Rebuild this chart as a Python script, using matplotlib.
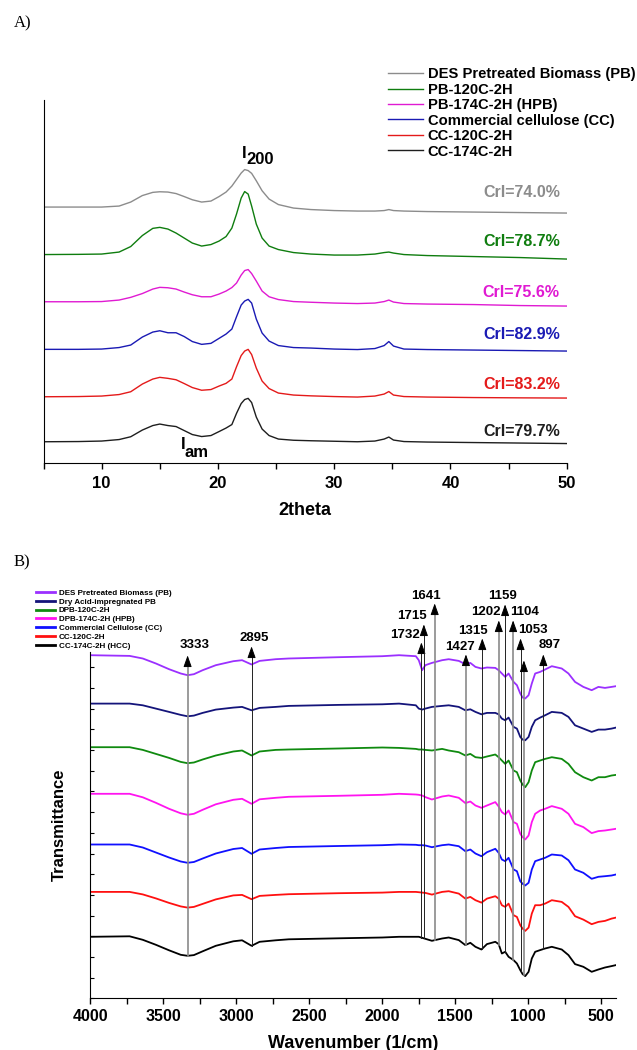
import matplotlib.pyplot as plt
import numpy as np
from matplotlib.ticker import MultipleLocator

plt.rcParams['font.family'] = 'Liberation Sans'
plt.rcParams['font.weight'] = 'bold'
plt.rcParams['axes.labelweight'] = 'bold'

# ---------------- XRD data (panel A), stacked, arbitrary units ----------------
two_theta = [5, 8, 10, 11.5, 12.5, 13.5, 14.4, 15.0, 15.7, 16.4, 17.1, 17.8, 18.6, 19.4,
             20.1, 20.7, 21.2, 21.6, 22.0, 22.3, 22.6, 22.9, 23.3, 23.8, 24.4, 25.2, 26.5,
             28, 30, 32, 33.5, 34.3, 34.7, 35.1, 36, 38, 42, 46, 50]
xrd_pb = [256, 256, 256, 257, 261, 267.5, 270.7, 271.3, 271, 269.5, 266.5, 263.3, 261, 262,
          266.5, 271, 277, 283.5, 290, 293.5, 292.5, 289.7, 282.3, 272.3, 264, 258.5, 255,
          253.5, 252.5, 252, 252, 252.5, 253.5, 252.5, 252, 251.5, 251, 250.5, 250]
xrd_pb120 = [208.5, 208.7, 209, 211, 216.5, 227.5, 234.7, 235.7, 234, 230, 225, 220, 217, 218.5,
             222, 226.5, 235, 249, 265, 271.5, 269, 257, 239, 225, 217, 213.5, 210.5,
             209, 208, 208, 209, 210.5, 211, 210, 208.5, 207.5, 206.5, 205.5, 204]
xrd_pb174 = [161.3, 161.3, 161.5, 163, 165.7, 169.5, 174, 175.7, 175.3, 174, 171, 168.3, 166.3,
             166.3, 169, 172, 175.5, 180, 188, 192.5, 193.5, 189.5, 182, 172, 166.3, 163.5,
             161.5, 160.8, 160, 159.5, 160, 161.5, 163, 161, 159.5, 159, 158.5, 157.5, 157]
xrd_cc = [113.7, 113.7, 114, 115.5, 118, 126, 131, 132.3, 130.3, 130.3, 126.5, 121.5, 118.7,
          119.7, 124.7, 129, 134, 146.3, 158, 162, 163.7, 160, 144, 130, 122, 117.5, 115.5,
          115, 114, 113.5, 114.5, 117.5, 121.5, 117, 114, 113.5, 113, 112.5, 112]
xrd_cc120 = [66.3, 66.5, 67, 68.5, 71.3, 79, 84, 85.7, 84.7, 83.3, 79.5, 75.5, 72.8, 73.5,
             77, 79.7, 84, 96.3, 107.5, 112, 113.7, 108.5, 95, 82, 74.5, 70, 68,
             67.2, 66.5, 66, 67, 69, 71.5, 68, 66.5, 66, 65.5, 65.2, 65]
xrd_cc174 = [21.3, 21.5, 22, 23.5, 26.3, 33, 37.5, 39, 37.5, 36.5, 32.5, 28.5, 26.5, 27.5,
             31.5, 35, 38.5, 49.7, 59.5, 63.5, 64.7, 60.5, 46, 34, 27.5, 24, 22.8,
             22.3, 21.8, 21.3, 22, 24, 26, 23, 21.5, 21, 20.5, 20, 19.5]

xrd_names = ['DES Pretreated Biomass (PB)', 'PB-120C-2H', 'PB-174C-2H (HPB)',
             'Commercial cellulose (CC)', 'CC-120C-2H', 'CC-174C-2H']
cri_labels = ['CrI=74.0%', 'CrI=78.7%', 'CrI=75.6%', 'CrI=82.9%', 'CrI=83.2%', 'CrI=79.7%']
cri_y = [271, 222, 171, 129, 79, 32]
xrd_colors = ['#8c8c8c', '#0f7d0f', '#e01ad2', '#1a1ab4', '#e41a1a', '#1e1e1e']

# ---------------- FTIR data (panel B), depth below each baseline ----------------
wavenumber = [4000, 3730, 3640, 3550, 3460, 3380, 3333, 3290, 3230, 3140, 3020, 2960, 2895,
              2840, 2730, 2640, 2300, 2000,
              1885, 1770, 1750, 1727, 1705, 1660, 1590, 1545, 1476, 1431, 1397, 1362, 1321,
              1283, 1226, 1203, 1181, 1158, 1135, 1101, 1078, 1055, 1039, 1021, 998, 976,
              953, 919, 885, 839, 771, 725, 680, 623, 566, 520, 475, 430, 400]
ir_pb = [0, 0.7, 3.3, 8.3, 14, 18.3, 20, 19, 15, 10, 6, 5, 9.3, 5.7, 4, 3.3, 2, 1,
         0, 1, 5, 15, 10, 7.7, 5, 4, 5.7, 9, 7.7, 11.7, 13.3, 12.3, 12.7, 15, 18.3, 21.7,
         18.3, 26.7, 30, 38.3, 42.3, 43.3, 40, 28.3, 18.3, 16.7, 14.3, 11, 13.3, 18.3, 26.7,
         31.7, 35, 31.7, 32.7, 31.7, 31]
ir_dry = [0, 0, 1.7, 5, 8.3, 11.3, 12.7, 12, 9.3, 6, 4, 3.3, 6.7, 4.3, 3.3, 2.3, 1.3, 0.7,
          0, 1.7, 5, 6, 5, 3.3, 2.3, 1.7, 3.3, 6.7, 5.7, 8.3, 10.7, 9.3, 9.3, 10.7, 15, 16.7,
          14, 23.3, 25, 33.3, 36, 36.7, 33.3, 23.3, 16.7, 14, 11.7, 8.3, 9.3, 13.3, 21.7,
          25, 28.3, 26, 26, 25, 24]
ir_dpb120 = [0, 0, 2.7, 6.7, 10.7, 14.7, 16, 15.3, 12.3, 8.3, 4.3, 3.3, 8.3, 4.3, 2.7, 2.3, 1.3,
             0.3, 0.7, 1.7, 2.3, 2.3, 2.7, 3.3, 1.7, 3.3, 5, 8.3, 6.7, 10, 10.7, 9.3, 7.3, 10,
             13.3, 16.7, 13.3, 23.3, 25, 33.3, 37.3, 40, 35, 23.3, 15, 13.3, 11.7, 10, 11.7,
             16.7, 25, 30, 33.3, 30, 30, 28.3, 27.7]
ir_dpb174 = [0, 0, 3.5, 9, 15, 19.5, 21, 20, 16, 10.5, 6, 5, 10, 5.5, 4, 3, 2, 1,
             0, 0.7, 1, 1.7, 3.3, 5.7, 2.7, 1.7, 4, 9.3, 7.7, 11.7, 14, 11.7, 8.3, 12.7, 18.3,
             20.7, 16.7, 28.3, 30, 40, 43.3, 45.7, 41.7, 28.3, 20, 16.7, 15, 12.3, 15, 20, 30,
             33.3, 39.3, 37.3, 36.7, 35.7, 35]
ir_cc = [0, 0, 3, 8, 13, 17, 18.3, 17.5, 14, 9, 4.5, 3.5, 9.3, 5, 3.5, 2.5, 1.5, 0.7,
         0, 0.3, 0.7, 0.7, 1, 2.7, 0.7, 0, 1.7, 6.7, 5, 9, 11.7, 7.7, 4.3, 8.3, 15, 16.7,
         13.3, 25, 26.7, 36.7, 39.3, 41, 38.3, 25, 16.7, 15, 13.3, 10, 11, 15.7, 25, 28.3,
         34.3, 32.3, 31.7, 31, 30]
ir_cc120 = [0, 0, 2.5, 6.5, 11, 14.5, 15.7, 15, 12, 7.5, 3.5, 3, 7.3, 4, 3, 2.3, 1.3, 0.7,
            0, 0, 0.3, 0.7, 1, 2.7, 0, -0.7, 1.7, 6.7, 5, 8.3, 10.7, 6.7, 4.3, 6.7, 13.3, 15,
            11.7, 23.3, 25, 33.3, 36.7, 39, 35.7, 21.7, 13.3, 13.3, 11.7, 8.3, 10, 15, 24.3,
            27.7, 32.3, 30, 29, 26.7, 25.7]
ir_cc174 = [0, -0.5, 3, 8, 13.5, 18, 19, 18.3, 14.5, 9, 4.5, 3.5, 9, 5, 3.5, 2.5, 1.5, 0.7,
            0, 0, 0, 1, 2, 4, 1.7, 0.7, 3.3, 8.3, 6, 10, 12.7, 7.3, 5, 7.3, 16.7, 15, 20,
            23.3, 26.7, 33.3, 37.3, 39.3, 35, 21.7, 15, 13.3, 11.7, 10, 12.7, 18.3, 27.3, 30,
            35, 32.7, 30.7, 29.3, 28.3]
ir_offsets = [343.2, 294.8, 251.2, 204.6, 153.9, 106.5, 61.6]

ir_names = ['DES Pretreated Biomass (PB)', 'Dry Acid-impregnated PB', 'DPB-120C-2H',
            'DPB-174C-2H (HPB)', 'Commercial Cellulose (CC)', 'CC-120C-2H', 'CC-174C-2H (HCC)']
ir_colors = ['#9b30ff', '#14147a', '#0f8a0f', '#ff14f0', '#1010ff', '#ff1010', '#000000']

peaks = [3333, 2895, 1732, 1715, 1641, 1427, 1315, 1202, 1159, 1104, 1053, 1030, 897]
peak_text = ['3333', '2895', '1732', '1715', '1641', '1427', '1315', '1202', '1159',
             '1104', '1053', '', '897']
# arrow tip heights and label positions (layout)
arrow_top = [343, 352, 356, 374, 395, 344, 360, 378, 394, 378, 360, 338, 344]
label_xy = [(3288, 353), (2879, 360), (1844, 363), (1794, 382), (1702, 402), (1466, 351),
            (1382, 367), (1293, 386), (1177, 402), (1023, 386), (965, 368), (0, 0), (856, 353)]
gray_lines = [3333, 1641, 1427, 1202, 1104, 1030]

fig = plt.figure(figsize=(6.37, 10.5), dpi=100)

# ---------------- Panel A ----------------
axA = fig.add_axes([0.0683, 0.559, 0.8214, 0.3457])
xrd_all = [xrd_pb, xrd_pb120, xrd_pb174, xrd_cc, xrd_cc120, xrd_cc174]
for y, name, c in zip(xrd_all, xrd_names, xrd_colors):
    axA.plot(two_theta, y, color=c, lw=1.0, label=name)
for lab, yy, c in zip(cri_labels, cri_y, xrd_colors):
    axA.text(49.4, yy, lab, color=c, ha='right', va='center', fontsize=11.5)
axA.text(22.3, 310, 'I', ha='center', va='center', fontsize=12)
axA.text(23.6, 304, '200', ha='center', va='center', fontsize=12)
axA.text(17.0, 19, 'I', ha='center', va='center', fontsize=12)
axA.text(18.2, 11, 'am', ha='center', va='center', fontsize=12)
axA.set_xlim(5, 50)
axA.set_ylim(0, 363)
axA.spines['top'].set_visible(False)
axA.spines['right'].set_visible(False)
axA.set_yticks([])
axA.xaxis.set_major_locator(MultipleLocator(10))
axA.xaxis.set_minor_locator(MultipleLocator(5))
axA.tick_params(axis='x', which='both', direction='out', length=4, width=1, labelsize=12, pad=5.5)
axA.set_xlabel('2theta', fontsize=13, labelpad=8)
axA.legend(loc='upper left', bbox_to_anchor=(0.609, 0.936), bbox_transform=fig.transFigure,
           frameon=False, fontsize=10.6, handlelength=2.4, handletextpad=0.3, labelspacing=0.1,
           borderpad=0, borderaxespad=0)
fig.text(0.022, 0.978, 'A)', family='Liberation Serif', fontweight='normal', fontsize=12,
         va='center')

# ---------------- Panel B ----------------
axB = fig.add_axes([0.1416, 0.04914, 0.8253, 0.3301])
ir_all = [ir_pb, ir_dry, ir_dpb120, ir_dpb174, ir_cc, ir_cc120, ir_cc174]
for d, off, name, c in zip(ir_all, ir_offsets, ir_names, ir_colors):
    axB.plot(wavenumber, off - np.array(d), color=c, lw=1.3, label=name)

bottom_curve = ir_offsets[-1] - np.array(ir_cc174)
wn_rev = wavenumber[::-1]
bc_rev = bottom_curve[::-1]
for p, txt, top, (lx, ly) in zip(peaks, peak_text, arrow_top, label_xy):
    ybot = np.interp(p, wn_rev, bc_rev)
    if p in gray_lines:
        axB.plot([p, p], [ybot, top - 6], color='#8a8a8a', lw=1.2, clip_on=False, zorder=3)
    else:
        axB.plot([p, p], [ybot, top - 6], color='#222222', lw=0.7, clip_on=False, zorder=3)
    axB.annotate('', xy=(p, top), xytext=(p, top - 9), annotation_clip=False,
                 arrowprops=dict(arrowstyle='-|>,head_length=0.7,head_width=0.25',
                                 color='black', lw=0.7, shrinkA=0, shrinkB=0))
    if txt:
        axB.text(lx, ly, txt, ha='center', va='center', fontsize=9.5, clip_on=False)

axB.set_xlim(4000, 400)
axB.set_ylim(0, 346.6)
axB.spines['top'].set_visible(False)
axB.spines['right'].set_visible(False)
axB.yaxis.set_major_locator(MultipleLocator(20.7))
axB.tick_params(axis='y', which='both', direction='in', length=3, width=0.8, labelleft=False)
axB.xaxis.set_major_locator(MultipleLocator(500))
axB.xaxis.set_minor_locator(MultipleLocator(250))
axB.tick_params(axis='x', which='both', direction='out', length=4, width=1, labelsize=11.5)
axB.set_xlabel('Wavenumber (1/cm)', fontsize=13, labelpad=8)
axB.set_ylabel('Transmittance', fontsize=12, labelpad=17)
axB.legend(loc='upper left', bbox_to_anchor=(0.0565, 0.439), bbox_transform=fig.transFigure,
           frameon=False, fontsize=5.8, handlelength=2.3, handletextpad=0.5, labelspacing=0.15,
           borderpad=0, borderaxespad=0)
for line in axB.get_legend().get_lines():
    line.set_linewidth(2)
fig.text(0.022, 0.4645, 'B)', family='Liberation Serif', fontweight='normal', fontsize=12,
         va='center')

fig.savefig('out.png', dpi=100)
